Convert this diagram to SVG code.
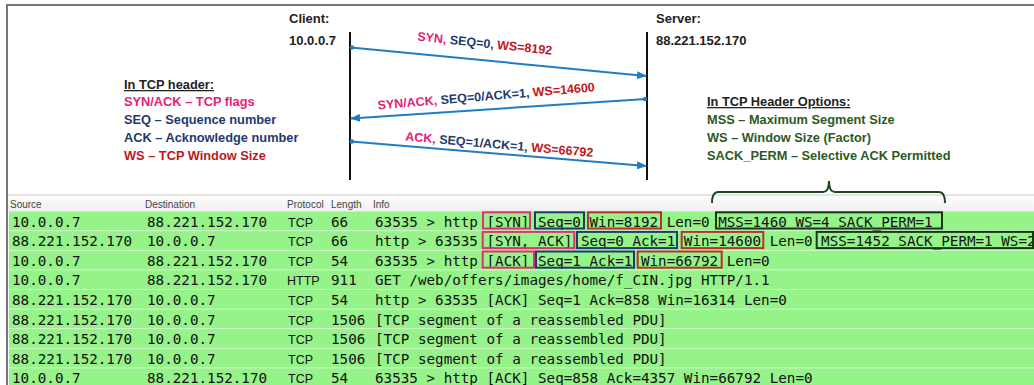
<svg xmlns="http://www.w3.org/2000/svg" width="1034" height="385" viewBox="0 0 1034 385">
<defs>
<style>
.lbl{font-family:"Liberation Sans",Arial,sans-serif;font-weight:bold;font-size:13px;fill:#222}
.lab{font-family:"Liberation Sans",Arial,sans-serif;font-weight:bold;font-size:12.5px}
.leg{font-family:"Liberation Sans",Arial,sans-serif;font-weight:bold;font-size:12.8px}
.pk{fill:#e62079}.nv{fill:#1f3a6e}.rd{fill:#c0161c}.gn{fill:#2b5a22}
.life{stroke:#111;stroke-width:2}
.msg{stroke:#1f7cc4;stroke-width:2;fill:none;marker-end:url(#ah)}
.dot{fill:#1f7cc4}
.hd{font-family:"Liberation Sans",Arial,sans-serif;font-size:10px;fill:#444}
.row{fill:#96f38a}
.mono{font-family:"DejaVu Sans Mono","Liberation Mono",monospace;font-size:14.25px;fill:#111}
.proto{font-family:"Liberation Sans",Arial,sans-serif;font-size:12.5px;fill:#111}
.bx{fill:none;stroke-width:2}
.bp{stroke:#e0306e}.bn{stroke:#1c3d6b}.br{stroke:#b8322a}.bg{stroke:#163a16}
</style>
<marker id="ah" markerUnits="userSpaceOnUse" markerWidth="10" markerHeight="8" refX="9" refY="4" orient="auto">
<path d="M0,0 L10,4 L0,8 z" fill="#1f7cc4"/>
</marker>
<linearGradient id="hg" x1="0" y1="0" x2="0" y2="1">
<stop offset="0" stop-color="#ffffff"/>
<stop offset="1" stop-color="#eeeeee"/>
</linearGradient>
</defs>
<rect x="0" y="0" width="1034" height="385" fill="#ffffff"/>
<!-- frame -->
<path d="M7,385 V5 H1034" fill="none" stroke="#777" stroke-width="2"/>

<g id="client">
<text class="lbl" x="289" y="23">Client:</text>
<text class="lbl" x="289" y="45">10.0.0.7</text>
<line class="life" x1="350" y1="32" x2="350" y2="180"/>
</g>
<g id="server">
<text class="lbl" x="656" y="23">Server:</text>
<text class="lbl" x="656" y="45">88.221.152.170</text>
<line class="life" x1="647" y1="32" x2="647" y2="180"/>
</g>

<g id="connectors">
<line class="msg" x1="351" y1="47.5" x2="646" y2="76"/>
<circle class="dot" cx="352" cy="47.5" r="2.2"/>
<line class="msg" x1="646" y1="99" x2="351" y2="118.5"/>
<circle class="dot" cx="645" cy="99" r="2.2"/>
<line class="msg" x1="351" y1="141.5" x2="646" y2="166"/>
<circle class="dot" cx="352" cy="141.5" r="2.2"/>
</g>

<g id="label-syn">
<text class="lab" transform="translate(417,40.5) rotate(6)"><tspan class="pk">SYN,</tspan><tspan class="nv"> SEQ=0,</tspan><tspan class="rd"> WS=8192</tspan></text>
</g>
<g id="label-synack">
<text class="lab" transform="translate(378,109.5) rotate(-4.8)"><tspan class="pk">SYN/ACK,</tspan><tspan class="nv"> SEQ=0/ACK=1,</tspan><tspan class="rd"> WS=14600</tspan></text>
</g>
<g id="label-ack">
<text class="lab" transform="translate(405,140.5) rotate(5)"><tspan class="pk">ACK,</tspan><tspan class="nv"> SEQ=1/ACK=1,</tspan><tspan class="rd"> WS=66792</tspan></text>
</g>

<g id="legend-header">
<text class="leg" x="124" y="89" fill="#222" text-decoration="underline">In TCP header:</text>
<text class="leg pk" x="124" y="106">SYN/ACK  – TCP flags</text>
<text class="leg nv" x="124" y="124">SEQ – Sequence number</text>
<text class="leg nv" x="124" y="142">ACK – Acknowledge number</text>
<text class="leg rd" x="124" y="160">WS – TCP Window Size</text>
</g>

<g id="legend-options">
<text class="leg" x="707" y="106" fill="#222" text-decoration="underline">In TCP Header Options:</text>
<text class="leg gn" x="707" y="124">MSS – Maximum  Segment Size</text>
<text class="leg gn" x="707" y="142">WS – Window Size (Factor)</text>
<text class="leg gn" x="707" y="160">SACK_PERM – Selective ACK Permitted</text>
</g>

<g id="table">
<rect x="8" y="195" width="1026" height="16.5" fill="url(#hg)"/>
<line x1="8" y1="195" x2="1034" y2="195" stroke="#c8c8c8" stroke-width="1"/>
<text class="hd" x="10" y="208">Source</text>
<text class="hd" x="145" y="208">Destination</text>
<text class="hd" x="287" y="208">Protocol</text>
<text class="hd" x="331" y="208">Length</text>
<text class="hd" x="373" y="208">Info</text>
<rect x="9" y="211" width="1025" height="174" fill="#e2f8dd"/>
<rect class="row" x="9" y="211.5" width="1025" height="18.8"/>
<rect class="row" x="9" y="231.1" width="1025" height="18.8"/>
<rect class="row" x="9" y="250.7" width="1025" height="18.8"/>
<rect class="row" x="9" y="270.3" width="1025" height="18.8"/>
<rect class="row" x="9" y="289.9" width="1025" height="18.8"/>
<rect class="row" x="9" y="309.5" width="1025" height="18.8"/>
<rect class="row" x="9" y="329.1" width="1025" height="18.8"/>
<rect class="row" x="9" y="348.7" width="1025" height="18.8"/>
<rect class="row" x="9" y="368.3" width="1025" height="18.8"/>

<g class="mono">
<text x="12" y="226.5">10.0.0.7</text><text x="147" y="226.5">88.221.152.170</text><text x="331" y="226.5">66</text><text x="375" y="226.5">63535 &gt; http [SYN] Seq=0 Win=8192 Len=0 MSS=1460 WS=4 SACK_PERM=1</text>
<text x="12" y="246.1">88.221.152.170</text><text x="147" y="246.1">10.0.0.7</text><text x="331" y="246.1">66</text><text x="375" y="246.1">http &gt; 63535 [SYN, ACK] Seq=0 Ack=1 Win=14600 Len=0 MSS=1452 SACK_PERM=1 WS=2</text>
<text x="12" y="265.7">10.0.0.7</text><text x="147" y="265.7">88.221.152.170</text><text x="331" y="265.7">54</text><text x="375" y="265.7">63535 &gt; http [ACK] Seq=1 Ack=1 Win=66792 Len=0</text>
<text x="12" y="285.3">10.0.0.7</text><text x="147" y="285.3">88.221.152.170</text><text x="331" y="285.3">911</text><text x="375" y="285.3">GET /web/offers/images/home/f_CIN.jpg HTTP/1.1</text>
<text x="12" y="304.9">88.221.152.170</text><text x="147" y="304.9">10.0.0.7</text><text x="331" y="304.9">54</text><text x="375" y="304.9">http &gt; 63535 [ACK] Seq=1 Ack=858 Win=16314 Len=0</text>
<text x="12" y="324.5">88.221.152.170</text><text x="147" y="324.5">10.0.0.7</text><text x="331" y="324.5">1506</text><text x="375" y="324.5">[TCP segment of a reassembled PDU]</text>
<text x="12" y="344.1">88.221.152.170</text><text x="147" y="344.1">10.0.0.7</text><text x="331" y="344.1">1506</text><text x="375" y="344.1">[TCP segment of a reassembled PDU]</text>
<text x="12" y="363.7">88.221.152.170</text><text x="147" y="363.7">10.0.0.7</text><text x="331" y="363.7">1506</text><text x="375" y="363.7">[TCP segment of a reassembled PDU]</text>
<text x="12" y="383.3">10.0.0.7</text><text x="147" y="383.3">88.221.152.170</text><text x="331" y="383.3">54</text><text x="375" y="383.3">63535 &gt; http [ACK] Seq=858 Ack=4357 Win=66792 Len=0</text>
</g>
<g class="proto">
<text x="288" y="226.5">TCP</text>
<text x="288" y="246.1">TCP</text>
<text x="288" y="265.7">TCP</text>
<text x="287" y="285.3">HTTP</text>
<text x="288" y="304.9">TCP</text>
<text x="288" y="324.5">TCP</text>
<text x="288" y="344.1">TCP</text>
<text x="288" y="363.7">TCP</text>
<text x="288" y="383.3">TCP</text>
</g>
</g>

<g id="highlights">
<rect class="bx bp" x="483" y="212.3" width="47" height="16.2"/>
<rect class="bx bn" x="535" y="212.3" width="49" height="16.2"/>
<rect class="bx br" x="588" y="212.3" width="73" height="16.2"/>
<rect class="bx bg" x="716" y="212.3" width="226" height="16.2"/>
<rect class="bx bp" x="482.7" y="231.9" width="91.6" height="16.2"/>
<rect class="bx bn" x="577" y="231.9" width="100" height="16.2"/>
<rect class="bx br" x="681.7" y="231.9" width="81.6" height="16.2"/>
<rect class="bx bg" x="816.7" y="231.9" width="216.3" height="16.2"/>
<rect class="bx bp" x="482.7" y="251.5" width="51.3" height="16.2"/>
<rect class="bx bn" x="536" y="251.5" width="98" height="16.2"/>
<rect class="bx br" x="637.7" y="251.5" width="84" height="16.2"/>
</g>

<g id="brace">
<path d="M712,203 Q712,192 718,192 H823 Q829,192 829,181 Q829,192 835,192 H939 Q945,192 945,203" fill="none" stroke="#1e4620" stroke-width="2"/>
</g>
</svg>
